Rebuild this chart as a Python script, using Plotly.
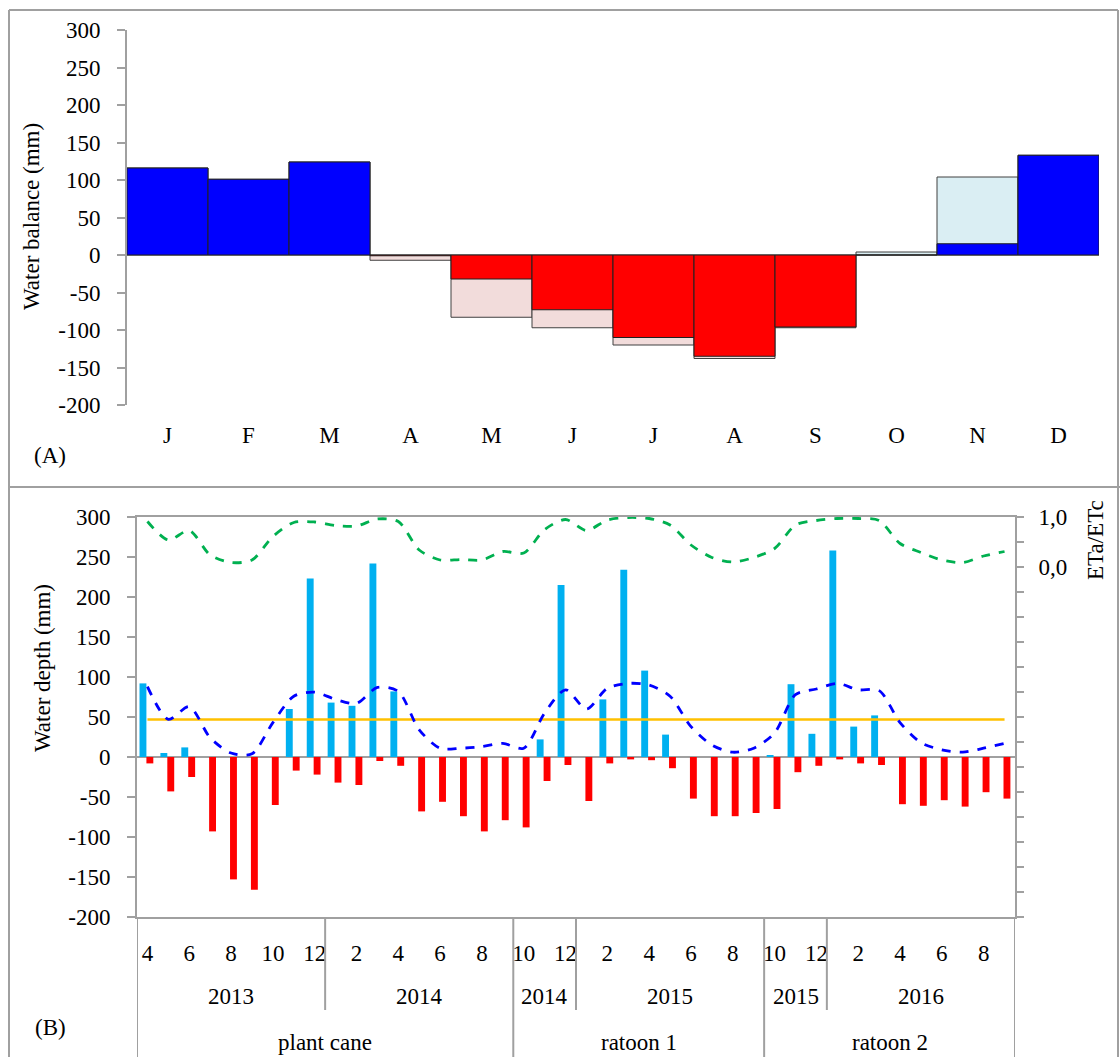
import plotly.graph_objects as go
import pandas as pd

W, H = 1120, 1057
FONT = "Liberation Serif"
FS = 23
GRAY = "#A0A0A0"

# ---------------- Panel A data (monthly water balance, mm) ----------------
month_cats = ["Jan", "Feb", "Mar", "Apr", "May", "Jun", "Jul", "Aug", "Sep", "Oct", "Nov", "Dec"]
month_initials = ["J", "F", "M", "A", "M", "J", "J", "A", "S", "O", "N", "D"]
balance_main = [116, 101, 124, -1, -32, -73, -110, -135, -96, 0, 15, 133]
balance_alt = [116, 101, 124, -7, -83, -97, -120, -138, -97, 4, 104, 133]

# ---------------- Panel B data (Apr 2013 - Sep 2016) ----------------
periods = pd.period_range("2013-04", "2016-09", freq="M")
cats_b = [str(p) for p in periods]
month_num_labels = [str(p.month) for p in periods]
water_supply = [92, 5, 12, 0, 0, 0, 0, 60, 223, 68, 64, 242, 82, 0, 0, 0, 0, 0,
                0, 22, 215, 0, 72, 234, 108, 28, 0, 0, 0, 0,
                2, 91, 29, 258, 38, 52, 0, 0, 0, 0, 0, 0]
water_deficit = [-8, -43, -25, -93, -153, -166, -60, -17, -22, -32, -35, -5, -11, -68, -56, -74, -93, -79,
                 -88, -30, -10, -55, -8, -3, -4, -14, -52, -74, -74, -70,
                 -65, -19, -11, -3, -8, -10, -59, -61, -54, -62, -44, -52]
soil_storage = [88, 47, 63, 24, 5, 4, 43, 76, 81, 72, 67, 87, 82, 34, 11, 11, 13, 17,
                11, 55, 84, 60, 86, 92, 90, 76, 38, 15, 6, 11,
                30, 78, 85, 92, 84, 83, 43, 18, 9, 6, 11, 17]
eta_etc = [0.91, 0.54, 0.73, 0.24, 0.09, 0.14, 0.61, 0.89, 0.90, 0.83, 0.82, 0.96, 0.91, 0.34, 0.14, 0.15, 0.14, 0.31,
           0.28, 0.75, 0.95, 0.73, 0.94, 0.99, 0.97, 0.84, 0.44, 0.19, 0.10, 0.19,
           0.37, 0.84, 0.93, 0.97, 0.97, 0.93, 0.47, 0.29, 0.14, 0.09, 0.22, 0.31]
raw_threshold = 47

year_groups = [("2013", 0, 8), ("2014", 9, 17), ("2014", 18, 20), ("2015", 21, 29), ("2015", 30, 32), ("2016", 33, 41)]
crop_groups = [("plant cane", 0, 17), ("ratoon 1", 18, 29), ("ratoon 2", 30, 41)]

left_ticks = [-200, -150, -100, -50, 0, 50, 100, 150, 200, 250, 300]
left_tick_text = [str(v) for v in left_ticks]
ratio_ticks = [v / 2 for v in range(-14, 3)]


def fy(px):
    return 1 - px / H


def fx(px):
    return px / W


A_L, A_R, A_T, A_B = 127, 1099, 30, 405
B_L, B_R, B_T, B_B = 137, 1015, 517, 917

domA_x = [fx(A_L), fx(A_R)]
domA_y = [fy(A_B), fy(A_T)]
domB_x = [fx(B_L), fx(B_R)]
domB_y = [fy(B_B), fy(B_T)]
zeroA = domA_y[0] + (0 - (-200)) / 500 * (domA_y[1] - domA_y[0])

fig = go.Figure()

# Panel A bars
fig.add_trace(go.Bar(
    x=month_cats, y=balance_alt, xaxis="x", yaxis="y", width=1,
    marker=dict(color=["#DAEEF3" if v >= 0 else "#F2DCDB" for v in balance_alt],
                line=dict(color="#404040", width=1)),
    showlegend=False))
fig.add_trace(go.Bar(
    x=month_cats, y=balance_main, xaxis="x", yaxis="y", width=1,
    marker=dict(color=["#0000FF" if v >= 0 else "#FF0000" for v in balance_main],
                line=dict(color="#202020", width=1)),
    showlegend=False))

# Panel B
fig.add_trace(go.Bar(x=cats_b, y=water_supply, xaxis="x2", yaxis="y2", width=0.33, offset=-0.38,
                     marker=dict(color="#00B0F0", line=dict(width=0)), showlegend=False))
fig.add_trace(go.Bar(x=cats_b, y=water_deficit, xaxis="x2", yaxis="y2", width=0.33, offset=-0.05,
                     marker=dict(color="#FF0000", line=dict(width=0)), showlegend=False))
fig.add_trace(go.Scatter(x=cats_b, y=[raw_threshold] * len(cats_b), xaxis="x2", yaxis="y2", mode="lines",
                         line=dict(color="#FFC000", width=2.5), showlegend=False))
fig.add_trace(go.Scatter(x=cats_b, y=soil_storage, xaxis="x2", yaxis="y2", mode="lines",
                         line=dict(color="#0000FF", width=2.8, dash="dash", shape="spline", smoothing=0.8),
                         showlegend=False))
fig.add_trace(go.Scatter(x=cats_b, y=eta_etc, xaxis="x2", yaxis="y3", mode="lines",
                         line=dict(color="#00B050", width=2.8, dash="dash", shape="spline", smoothing=0.8),
                         showlegend=False))

tickfont = dict(family=FONT, size=FS, color="black")

layout = dict(
    width=W, height=H, margin=dict(l=0, r=0, t=0, b=0, autoexpand=False),
    paper_bgcolor="white", plot_bgcolor="rgba(0,0,0,0)",
    barmode="overlay", font=dict(family=FONT, size=FS, color="black"),
    xaxis=dict(domain=domA_x, anchor="y", type="category", categoryarray=month_cats,
               range=[-0.5, 11.5], tickvals=month_cats, ticktext=month_initials,
               showline=False, ticks="", showgrid=False, tickfont=tickfont, ticklabelstandoff=14),
    yaxis=dict(domain=domA_y, anchor="x", range=[-200, 300], tickvals=left_ticks, ticktext=left_tick_text,
               showline=True, linecolor=GRAY, linewidth=2, ticks="outside", ticklen=8,
               tickcolor=GRAY, tickwidth=2, showgrid=False, zeroline=False,
               tickfont=tickfont, ticklabelstandoff=12),
    xaxis3=dict(domain=domA_x, overlaying="x", anchor="free", position=zeroA, type="linear",
                range=[-0.5, 11.5], tickvals=[i - 0.5 for i in range(13)], ticks="outside",
                ticklen=7, tickcolor=GRAY, tickwidth=2, showline=True, linecolor=GRAY,
                linewidth=2, showticklabels=False, showgrid=False, zeroline=False),
    xaxis2=dict(domain=domB_x, anchor="y2", type="category", categoryarray=cats_b,
                range=[-0.5, len(cats_b) - 0.5],
                tickvals=[c for c, m in zip(cats_b, month_num_labels) if int(m) % 2 == 0],
                ticktext=[m for m in month_num_labels if int(m) % 2 == 0],
                showline=True, mirror=True, linecolor=GRAY, linewidth=2, ticks="",
                showgrid=False, tickfont=tickfont, ticklabelstandoff=14),
    yaxis2=dict(domain=domB_y, anchor="x2", range=[-200, 300], tickvals=left_ticks, ticktext=left_tick_text,
                showline=True, linecolor=GRAY, linewidth=2, ticks="outside", ticklen=8,
                tickcolor=GRAY, tickwidth=2, showgrid=False, zeroline=True,
                zerolinecolor=GRAY, zerolinewidth=2, tickfont=tickfont, ticklabelstandoff=12),
    yaxis3=dict(overlaying="y2", anchor="x2", side="right", range=[-7, 1], tickvals=ratio_ticks,
                ticktext=[("1,0" if v == 1 else "0,0" if v == 0 else "") for v in ratio_ticks],
                showline=True, linecolor=GRAY, linewidth=2, ticks="outside", ticklen=7,
                tickcolor=GRAY, tickwidth=2, showgrid=False, zeroline=False,
                tickfont=tickfont, ticklabelstandoff=10),
)
fig.update_layout(**layout)

annotations = [
    dict(text="Water balance (mm)", x=fx(32), y=fy(217), textangle=-90),
    dict(text="Water depth (mm)", x=fx(42), y=fy(668), textangle=-90),
    dict(text="ETa/ETc", x=fx(1095), y=fy(540), textangle=-90),
    dict(text="(A)", x=fx(50), y=fy(455)),
    dict(text="(B)", x=fx(50), y=fy(1027)),
]
for a in annotations:
    a.update(xref="paper", yref="paper", showarrow=False, xanchor="center", yanchor="middle",
             font=dict(family=FONT, size=FS, color="black"))
    fig.add_annotation(**a)

for label, s, e in year_groups:
    fig.add_annotation(text=label, x=(s + e) / 2, xref="x2", y=fy(996), yref="paper",
                       xanchor="center", yanchor="middle",
                       showarrow=False, font=dict(family=FONT, size=FS, color="black"))
for label, s, e in crop_groups:
    fig.add_annotation(text=label, x=(s + e) / 2, xref="x2", y=fy(1042), yref="paper",
                       xanchor="center", yanchor="middle",
                       showarrow=False, font=dict(family=FONT, size=FS, color="black"))

shapes = []
crop_ends = [e for _, _, e in crop_groups]
for _, s, e in year_groups:
    if e in crop_ends:
        continue
    shapes.append(dict(type="line", xref="x2", yref="paper", x0=e + 0.5, x1=e + 0.5,
                       y0=fy(B_B), y1=fy(1010), line=dict(color=GRAY, width=2)))
for _, s, e in crop_groups:
    shapes.append(dict(type="line", xref="x2", yref="paper", x0=s - 0.5, x1=s - 0.5,
                       y0=fy(B_B), y1=0, line=dict(color=GRAY, width=2)))
shapes.append(dict(type="line", xref="x2", yref="paper", x0=len(cats_b) - 0.5, x1=len(cats_b) - 0.5,
                   y0=fy(B_B), y1=0, line=dict(color=GRAY, width=2)))
shapes += [
    dict(type="line", xref="paper", yref="paper", x0=fx(9), x1=fx(9), y0=fy(10), y1=0,
         line=dict(color=GRAY, width=2)),
    dict(type="line", xref="paper", yref="paper", x0=fx(9), x1=fx(1118), y0=fy(10), y1=fy(10),
         line=dict(color=GRAY, width=2)),
    dict(type="line", xref="paper", yref="paper", x0=fx(1118), x1=fx(1118), y0=fy(10), y1=0,
         line=dict(color=GRAY, width=2)),
    dict(type="line", xref="paper", yref="paper", x0=fx(9), x1=1, y0=fy(487), y1=fy(487),
         line=dict(color=GRAY, width=2)),
]
fig.update_layout(shapes=shapes)

page_fix = (
    "document.documentElement.style.overflow='hidden';"
    "document.body.style.margin='0';"
    "document.body.style.overflow='hidden';"
    "var gd=document.getElementById('{plot_id}');"
    "gd.style.position='fixed';gd.style.top='0px';gd.style.left='0px';"
)

fig.write_html("out.html", config={"displayModeBar": False}, post_script=page_fix)
